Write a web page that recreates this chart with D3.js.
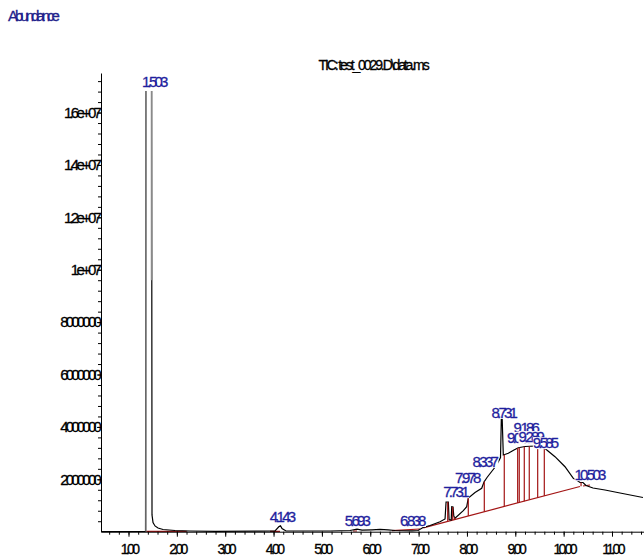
<!DOCTYPE html>
<html>
<head>
<meta charset="utf-8">
<script src="https://cdn.jsdelivr.net/npm/d3@7"></script>
<style>
body { margin: 0; background: #fff; }
text { font-family: "Liberation Sans", Arial, sans-serif; stroke-width: 0.3px; }
</style>
</head>
<body>
<script>
// TIC trace (time in min, abundance)
var signalTime = [0.431, 1.352, 1.362, 1.476, 1.486, 1.507, 1.548, 1.610, 1.714, 1.962, 2.272, 2.789, 3.720, 4.030,
    4.113, 4.144, 4.175, 4.258, 5.168, 5.581, 5.726, 5.830, 6.037, 6.202, 6.368, 6.512, 6.864, 6.988, 7.092, 7.236,
    7.443, 7.547, 7.568, 7.615, 7.630, 7.675, 7.685, 7.712, 7.728, 7.753, 7.925, 7.995, 8.028, 8.167, 8.305, 8.353,
    8.415, 8.616, 8.694, 8.711, 8.729, 8.752, 8.855, 8.973, 9.062, 9.201, 9.408, 9.579, 9.677, 9.821, 10.028, 10.200,
    10.297, 10.338, 10.400, 10.462, 10.607, 10.855, 11.166, 11.641];
var signalAbund = [0, 8e3, 2.2e7, 2.2e7, 6.4e5, 3.5e5, 2.2e5, 1.4e5, 8.4e4, 4.6e4, 2.7e4, 1.5e4, 1.9e4, 3.4e4,
    1.98e5, 2.29e5, 1.22e5, 2.7e4, 2.7e4, 4.6e4, 9.5e4, 5.7e4, 7.3e4, 9.2e4, 7.3e4, 4.6e4, 3.4e4, 4.6e4, 1.6e5, 2.37e5,
    3.82e5, 4.85e5, 1.134e6, 1.134e6, 4.66e5, 4.47e5, 9.54e5, 9.43e5, 5.99e5, 5.11e5, 8.02e5, 9.54e5, 1.286e6, 1.496e6, 1.656e6, 1.897e6,
    2.069e6, 2.546e6, 2.832e6, 4.302e6, 4.302e6, 2.928e6, 2.992e6, 3.118e6, 3.206e6, 3.252e6, 3.271e6, 3.233e6, 3.080e6, 2.863e6, 2.481e6, 2.038e6,
    1.935e6, 1.878e6, 1.878e6, 1.763e6, 1.668e6, 1.592e6, 1.477e6, 1.305e6];

// integration baselines (start/end)
var baseT0 = [1.356, 3.927, 5.643, 6.450, 7.097, 10.400];
var baseV0 = [1.5e4, 1.5e4, 2.7e4, 3.8e4, 1.49e5, 1.744e6];
var baseT1 = [2.204, 4.133, 5.726, 7.029, 10.338, 10.545];
var baseV1 = [1.5e4, 1.5e4, 2.7e4, 1.03e5, 1.725e6, 1.782e6];

// drop lines of integrated peaks
var dropTimes = [7.602, 7.705, 7.742, 8.028, 8.359, 8.772, 9.049, 9.082, 9.186, 9.289, 9.463, 9.600, 10.36];

// grey marks on the big peak
var greyTime = [1.362, 1.476];
var greyFrom = [0, 9.6e6];
var greyTo = [1.682e7, 1.682e7];

var labelText = ["1.503", "4.143", "5.693", "6.838", "7.731", "7.978", "8.337", "8.731",
    "9.186", "9.049", "9.289", "9.585", "10.503"];
var labelHeight = [1.697e7, 3.8e5, 2.18e5, 2.18e5, 1.32e6, 1.86e6, 2.47e6, 4.34e6,
    3.78e6, 3.39e6, 3.42e6, 3.19e6, 1.97e6];

var xMajor = d3.range(1, 12);
var yMajor = d3.range(2e6, 1.61e7, 2e6);

var w = 644, h = 558;
var x = d3.scaleLinear().domain([0.431, 11.662]).range([101, 644]);
var y = d3.scaleLinear().domain([0, 1.751e7]).range([531.7, 73]);
var sig = d3.scaleLinear().domain(signalTime).range(signalAbund);

var svg = d3.select("body").append("svg")
    .attr("width", w)
    .attr("height", h);

svg.append("text")
    .attr("x", 8).attr("y", 21)
    .attr("font-size", 15).attr("letter-spacing", -3)
    .attr("fill", "#22228c").attr("stroke", "#22228c")
    .text("Abundance");

svg.append("text")
    .attr("x", 373).attr("y", 70)
    .attr("text-anchor", "middle")
    .attr("font-size", 14).attr("letter-spacing", -2.1)
    .attr("fill", "#000").attr("stroke", "#000")
    .text("TIC: test_0029.D\\data.ms");

svg.append("clipPath").attr("id", "plot")
    .append("rect")
    .attr("x", 101).attr("width", 543)
    .attr("y", y(1.682e7)).attr("height", y(0) - y(1.682e7) + 1);

var plot = svg.append("g").attr("clip-path", "url(#plot)");

plot.selectAll(".base")
    .data(baseT0)
    .enter().append("line")
    .attr("class", "base")
    .attr("x1", function (d, i) { return x(d); })
    .attr("y1", function (d, i) { return y(baseV0[i]); })
    .attr("x2", function (d, i) { return x(baseT1[i]); })
    .attr("y2", function (d, i) { return y(baseV1[i]); })
    .attr("stroke", "#a31515")
    .attr("stroke-width", 1.2);

var line = d3.line()
    .x(function (d) { return x(d); })
    .y(function (d, i) { return y(signalAbund[i]); });

plot.append("path")
    .datum(signalTime)
    .attr("d", line)
    .attr("fill", "none")
    .attr("stroke", "#000")
    .attr("stroke-width", 1.2);

function baseAt(t) {
    var best = 0, dist = Infinity;
    for (var i = 0; i < baseT0.length; i++) {
        var d = t < baseT0[i] ? baseT0[i] - t : (t > baseT1[i] ? t - baseT1[i] : 0);
        if (d < dist) { dist = d; best = i; }
    }
    return baseV0[best] + (baseV1[best] - baseV0[best]) * (t - baseT0[best]) / (baseT1[best] - baseT0[best]);
}

plot.selectAll(".drop")
    .data(dropTimes)
    .enter().append("line")
    .attr("class", "drop")
    .attr("x1", function (d) { return x(d); })
    .attr("x2", function (d) { return x(d); })
    .attr("y1", function (d) { return y(sig(d)); })
    .attr("y2", function (d) { return y(baseAt(d)); })
    .attr("stroke", "#a31515")
    .attr("stroke-width", 1.2);

plot.selectAll(".grey")
    .data(greyTime)
    .enter().append("line")
    .attr("class", "grey")
    .attr("x1", function (d) { return x(d); })
    .attr("x2", function (d) { return x(d); })
    .attr("y1", function (d, i) { return y(greyFrom[i]); })
    .attr("y2", function (d, i) { return y(greyTo[i]); })
    .attr("stroke", "#8a8a8a")
    .attr("stroke-width", 1.5);

// axes
var xAxis = svg.append("g")
    .attr("transform", "translate(0," + y(0) + ")")
    .call(d3.axisBottom(x).tickValues(xMajor).tickFormat(d3.format(".2f"))
        .tickSizeInner(5).tickSizeOuter(0).tickPadding(7));
svg.append("g")
    .attr("transform", "translate(0," + y(0) + ")")
    .call(d3.axisBottom(x).tickValues(d3.range(0.6, 11.61, 0.2)).tickFormat("")
        .tickSizeInner(3).tickSizeOuter(0))
    .select(".domain").remove();
xAxis.selectAll("text")
    .attr("font-size", 14).attr("letter-spacing", -2.7)
    .attr("stroke", "#000")
    .attr("font-family", "Liberation Sans, Arial, sans-serif");

var yAxis = svg.append("g")
    .attr("transform", "translate(101,0)")
    .call(d3.axisLeft(y).tickValues(yMajor)
        .tickFormat(function (v) { return v >= 1e7 ? +(v / 1e7).toFixed(1) + "e+07" : String(v); })
        .tickSizeInner(4).tickSizeOuter(0).tickPadding(-2));
svg.append("g")
    .attr("transform", "translate(101,0)")
    .call(d3.axisLeft(y).tickValues(d3.range(4e5, 1.75e7, 4e5)).tickFormat("")
        .tickSizeInner(3).tickSizeOuter(0))
    .select(".domain").remove();
yAxis.selectAll("text")
    .attr("font-size", 15).attr("letter-spacing", -2.8)
    .attr("stroke", "#000")
    .attr("font-family", "Liberation Sans, Arial, sans-serif");

svg.selectAll(".domain, .tick line").attr("stroke", "#000");

// peak labels with white boxes
var labels = svg.selectAll(".plabel")
    .data(labelText)
    .enter().append("g")
    .attr("class", "plabel");
labels.append("rect").attr("fill", "#fff");
labels.append("text")
    .attr("x", function (d) { return x(+d) + 1; })
    .attr("y", function (d, i) { return y(labelHeight[i]); })
    .attr("text-anchor", "middle")
    .attr("font-size", 15).attr("letter-spacing", -2.8)
    .attr("fill", "#1f1f9e").attr("stroke", "#1f1f9e")
    .text(function (d) { return d; });
labels.each(function () {
    var g = d3.select(this);
    var t = g.select("text");
    var b = t.node().getBBox();
    var by = +t.attr("y");
    g.select("rect")
        .attr("x", b.x).attr("width", b.width)
        .attr("y", by - 11).attr("height", 12);
});
</script>
</body>
</html>
